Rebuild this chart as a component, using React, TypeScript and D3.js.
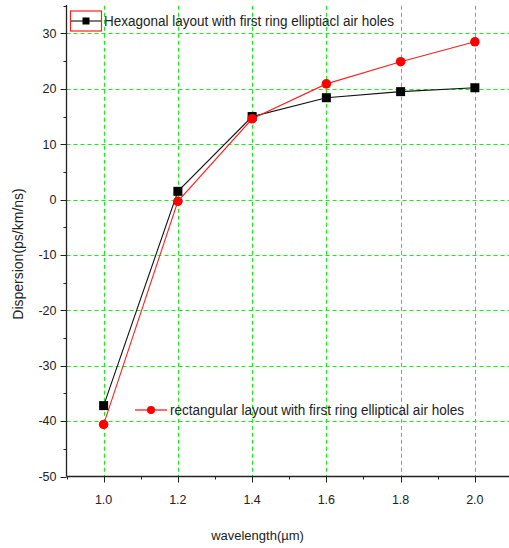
import React from "react";
import * as d3 from "d3";

const wavelengths = [1.0, 1.2, 1.4, 1.6, 1.8, 2.0];
const hexagonal = [-37.2, 1.5, 15.0, 18.4, 19.5, 20.2];
const rectangular = [-40.6, -0.3, 14.6, 20.9, 24.9, 28.5];
const xTicks = [1.0, 1.2, 1.4, 1.6, 1.8, 2.0];
const xMinorTicks = [0.9, 1.1, 1.3, 1.5, 1.7, 1.9, 2.1];
const yTicks = [-50, -40, -30, -20, -10, 0, 10, 20, 30];
const yMinorTicks = [-45, -35, -25, -15, -5, 5, 15, 25, 35];
const hexLabel = "Hexagonal layout with first ring elliptiacl air holes";
const rectLabel = "rectangular layout with first ring elliptical air holes";
const xTitle = "wavelength(µm)";
const yTitle = "Dispersion(ps/km/ns)";

const W = 509;
const H = 548;
const left = 66.5;
const bottom = 476.5;
const top = 5;

const px = (v: number) => Math.round(v) + 0.5;

export default function App() {
  const x = d3.scaleLinear().domain([0.9, 2.1]).range([left, 512]);
  const y = d3.scaleLinear().domain([-50, 35]).range([bottom, top + 0.8]);
  const line = d3
    .line<number>()
    .x((_, i) => x(wavelengths[i]))
    .y((d) => y(d));
  const font = "'Liberation Sans', Arial, sans-serif";
  const txt = "#222";
  const green = "#14f014";

  return (
    <svg
      width={W}
      height={H}
      style={{ position: "absolute", left: 0, top: 0, background: "#fff" }}
      fontFamily={font}
    >
      <rect x={0} y={0} width={W} height={H} fill="#fff" />
      {/* grid */}
      {xTicks.map((t) => (
        <line
          key={"gx" + t}
          x1={px(x(t))}
          x2={px(x(t))}
          y1={y(35)}
          y2={bottom}
          stroke={green}
          strokeWidth={1}
          strokeDasharray="4,3"
        />
      ))}
      {yTicks
        .filter((t) => t > -50)
        .map((t) => (
          <line
            key={"gy" + t}
            x1={left}
            x2={W}
            y1={px(y(t))}
            y2={px(y(t))}
            stroke={green}
            strokeWidth={1}
            strokeDasharray="4,3"
          />
        ))}
      {/* axes */}
      <line x1={left} x2={left} y1={top} y2={bottom} stroke="#222" strokeWidth={1.3} />
      <line x1={left} x2={W} y1={bottom} y2={bottom} stroke="#222" strokeWidth={1.3} />
      {yTicks.map((t) => (
        <g key={"yt" + t}>
          <line x1={left - 6} x2={left} y1={px(y(t))} y2={px(y(t))} stroke="#222" strokeWidth={1} />
          <text
            x={left - 10}
            y={y(t)}
            dy="0.35em"
            textAnchor="end"
            fontSize={12.5}
            fill={txt}
          >
            {t}
          </text>
        </g>
      ))}
      {yMinorTicks.map((t) => (
        <line key={"ym" + t} x1={left - 3} x2={left} y1={px(y(t))} y2={px(y(t))} stroke="#222" strokeWidth={1} />
      ))}
      {xTicks.map((t) => (
        <g key={"xt" + t}>
          <line x1={px(x(t))} x2={px(x(t))} y1={bottom} y2={bottom + 6} stroke="#222" strokeWidth={1} />
          <text x={x(t)} y={bottom + 27} textAnchor="middle" fontSize={12.5} fill={txt}>
            {t.toFixed(1)}
          </text>
        </g>
      ))}
      {xMinorTicks.map((t) => (
        <line key={"xm" + t} x1={px(x(t))} x2={px(x(t))} y1={bottom} y2={bottom + 3} stroke="#222" strokeWidth={1} />
      ))}
      {/* axis titles */}
      <text x={257.5} y={540} textAnchor="middle" fontSize={13} fill={txt}>
        {xTitle}
      </text>
      <text
        transform={`translate(23,254) rotate(-90)`}
        textAnchor="middle"
        fontSize={14}
        fill={txt}
      >
        {yTitle}
      </text>
      {/* series */}
      <path d={line(hexagonal) || ""} fill="none" stroke="#111" strokeWidth={1.1} />
      <path d={line(rectangular) || ""} fill="none" stroke="#ff2020" strokeWidth={1.1} />
      {hexagonal.map((v, i) => (
        <rect
          key={"hm" + i}
          x={x(wavelengths[i]) - 4.5}
          y={y(v) - 4.5}
          width={9}
          height={9}
          fill="#000"
        />
      ))}
      {rectangular.map((v, i) => (
        <circle key={"rm" + i} cx={x(wavelengths[i])} cy={y(v)} r={4.8} fill="#ff0000" />
      ))}
      {/* legend 1 */}
      <rect x={70.5} y={11} width={31} height={20} fill="#fff" stroke="#ff2020" strokeWidth={1.2} />
      <line x1={71} x2={101} y1={21} y2={21} stroke="#111" strokeWidth={1.1} />
      <rect x={82.5} y={17.5} width={7} height={7} fill="#000" />
      <text
        x={104}
        y={26}
        fontSize={14}
        fill={txt}
        textLength={290}
        lengthAdjust="spacingAndGlyphs"
      >
        {hexLabel}
      </text>
      {/* legend 2 */}
      <line x1={135} x2={167} y1={410} y2={410} stroke="#ff2020" strokeWidth={1.3} />
      <circle cx={151} cy={410} r={4} fill="#ff0000" />
      <text
        x={170}
        y={415}
        fontSize={14}
        fill={txt}
        textLength={294}
        lengthAdjust="spacingAndGlyphs"
      >
        {rectLabel}
      </text>
    </svg>
  );
}
